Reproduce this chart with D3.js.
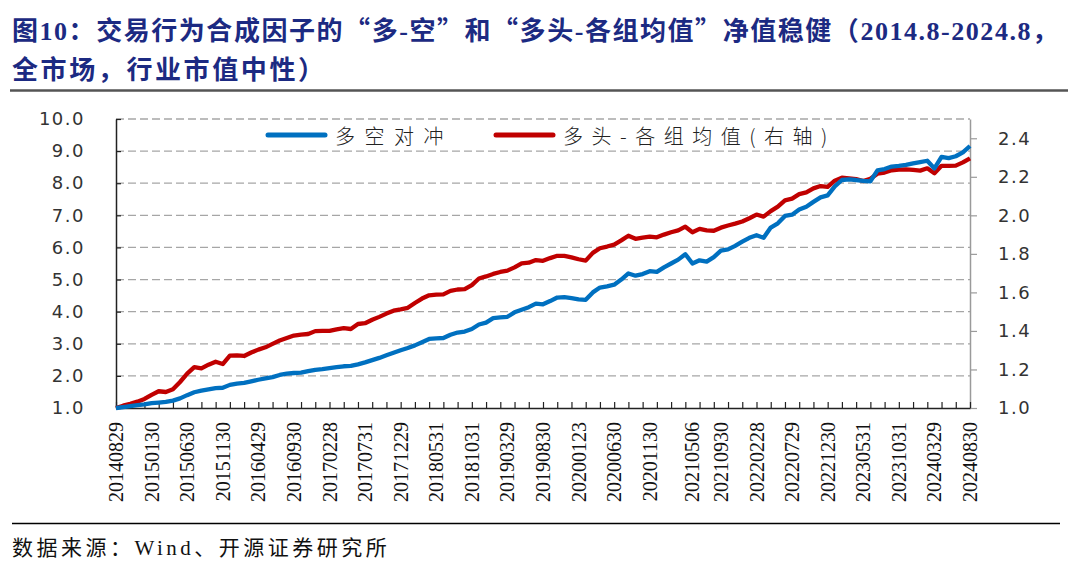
<!DOCTYPE html>
<html><head><meta charset="utf-8">
<script src="https://cdn.jsdelivr.net/npm/d3@7/dist/d3.min.js"></script>
<style>body{margin:0;background:#fff}svg{display:block}</style>
</head><body>
<svg id="c" width="1080" height="574"></svg>
<script>
// ---- DATA ----
const months = [
"201408","201409","201410","201411","201412",
"201501","201502","201503","201504","201505","201506","201507","201508","201509","201510","201511","201512",
"201601","201602","201603","201604","201605","201606","201607","201608","201609","201610","201611","201612",
"201701","201702","201703","201704","201705","201706","201707","201708","201709","201710","201711","201712",
"201801","201802","201803","201804","201805","201806","201807","201808","201809","201810","201811","201812",
"201901","201902","201903","201904","201905","201906","201907","201908","201909","201910","201911","201912",
"202001","202002","202003","202004","202005","202006","202007","202008","202009","202010","202011","202012",
"202101","202102","202103","202104","202105","202106","202107","202108","202109","202110","202111","202112",
"202201","202202","202203","202204","202205","202206","202207","202208","202209","202210","202211","202212",
"202301","202302","202303","202304","202305","202306","202307","202308","202309","202310","202311","202312",
"202401","202402","202403","202404","202405","202406","202407","202408"];

const tickLabels = ["20140829","20150130","20150630","20151130","20160429","20160930","20170228","20170731",
"20171229","20180531","20181031","20190329","20190830","20200123","20200630","20201130","20210506",
"20210930","20220228","20220729","20221230","20230531","20231031","20240329","20240830"];

// 多空对冲 (left axis)
const longShort = [
1.00,1.03,1.06,1.09,1.11,1.15,1.17,1.19,1.23,1.30,1.40,1.49,1.54,1.58,1.62,1.63,1.72,1.76,1.78,1.83,
1.88,1.92,1.96,2.03,2.07,2.09,2.10,2.15,2.19,2.21,2.24,2.27,2.30,2.31,2.36,2.42,2.49,2.56,2.64,2.72,
2.80,2.87,2.95,3.05,3.15,3.17,3.18,3.28,3.35,3.38,3.46,3.60,3.66,3.80,3.82,3.84,3.98,4.06,4.14,4.25,
4.23,4.33,4.44,4.45,4.42,4.38,4.37,4.60,4.75,4.79,4.84,5.00,5.19,5.12,5.17,5.26,5.24,5.38,5.50,5.62,
5.79,5.50,5.60,5.56,5.70,5.90,5.94,6.05,6.18,6.30,6.38,6.30,6.62,6.75,6.98,7.02,7.18,7.27,7.42,7.56,
7.62,7.90,8.10,8.12,8.10,8.07,8.06,8.40,8.44,8.52,8.54,8.57,8.62,8.66,8.70,8.46,8.82,8.78,8.84,8.96,
9.16];

// 多头-各组均值 (right axis)
const longMinusAvg = [
1.000,1.012,1.022,1.033,1.047,1.068,1.087,1.083,1.097,1.135,1.178,1.212,1.206,1.225,1.240,1.228,1.272,1.273,1.270,1.288,
1.303,1.315,1.333,1.350,1.363,1.376,1.381,1.384,1.399,1.400,1.400,1.408,1.414,1.410,1.436,1.440,1.458,1.473,1.490,1.505,
1.512,1.520,1.545,1.568,1.585,1.588,1.590,1.608,1.615,1.617,1.638,1.672,1.683,1.696,1.706,1.713,1.730,1.751,1.754,1.768,
1.764,1.778,1.790,1.790,1.782,1.772,1.765,1.805,1.829,1.838,1.848,1.870,1.894,1.878,1.884,1.889,1.886,1.900,1.912,1.922,
1.941,1.912,1.930,1.922,1.920,1.936,1.947,1.957,1.968,1.985,2.004,1.993,2.022,2.045,2.078,2.087,2.110,2.119,2.140,2.152,
2.148,2.180,2.195,2.192,2.188,2.178,2.190,2.216,2.222,2.234,2.237,2.239,2.236,2.232,2.244,2.218,2.257,2.257,2.258,2.275,
2.296];

const leftTicks = [1,2,3,4,5,6,7,8,9,10];
const rightTicks = [1.0,1.2,1.4,1.6,1.8,2.0,2.2,2.4];
const seriesNames = ["多空对冲","多头-各组均值(右轴)"];

// ---- CHART ----
const svg = d3.select("#c");
const L = 116, R = 970, T = 119, B = 408;
const x = d3.scalePoint().domain(months).range([L, R]);
const yL = d3.scaleLinear().domain([1, 10]).range([B, T]);
const yR = d3.scaleLinear().domain([1, 2.5]).range([B, T]);
const cjk = "'Liberation Serif','Noto Sans CJK SC',serif";
const cjkOnly = "'Noto Sans CJK SC',sans-serif";
const navy = "#1c2a82";

// Title
const title = svg.append("g").attr("fill", navy).attr("font-family", cjk).attr("font-weight", "bold").attr("font-size", 26);
const t1 = title.append("text").attr("x", 12).attr("y", 40)
  .attr("textLength", 1046).attr("lengthAdjust", "spacing");
const parts = [["图10：交易行为合成因子的", cjk], ["“", cjkOnly], ["多-空", cjk], ["”", cjkOnly], ["和", cjk],
  ["“", cjkOnly], ["多头-各组均值", cjk], ["”", cjkOnly], ["净值稳健（2014.8-2024.8，", cjk]];
parts.forEach(p => t1.append("tspan").attr("font-family", p[1]).text(p[0]));
title.append("text").attr("x", 12).attr("y", 79).attr("letter-spacing", 2.6).text("全市场，行业市值中性）");
svg.append("line").attr("x1", 10).attr("x2", 1068).attr("y1", 90.5).attr("y2", 90.5)
  .attr("stroke", "#555").attr("stroke-width", 2.5);

// Gridlines
svg.append("g").selectAll("line").data(leftTicks.slice(1)).join("line")
  .attr("x1", L).attr("x2", R).attr("y1", d => yL(d)).attr("y2", d => yL(d))
  .attr("stroke", "#a6a6a6").attr("stroke-width", 1.3).attr("stroke-dasharray", "8,4");

// Left axis
const gL = svg.append("g").attr("transform", `translate(${L},0)`)
  .call(d3.axisLeft(yL).tickValues(leftTicks).tickFormat(d3.format(".1f")).tickSizeInner(-5).tickSizeOuter(0).tickPadding(31));
gL.select(".domain").attr("stroke", "#222").attr("stroke-width", 1.5);
gL.selectAll(".tick line").attr("stroke", "#222").attr("stroke-width", 1.2);
gL.selectAll("text").attr("font-family", "'DejaVu Sans',sans-serif").attr("font-size", 18)
  .attr("letter-spacing", 1.5).attr("fill", "#333");

// Right axis
const gR = svg.append("g").attr("transform", `translate(${R},0)`)
  .call(d3.axisRight(yR).tickValues(rightTicks).tickFormat(d3.format(".1f")).tickSize(7).tickSizeOuter(0).tickPadding(21));
gR.select(".domain").attr("stroke", "#9a9a9a").attr("stroke-width", 1.5);
gR.selectAll(".tick line").attr("stroke", "#9a9a9a").attr("stroke-width", 1.2);
gR.selectAll("text").attr("font-family", "'DejaVu Sans',sans-serif").attr("font-size", 18)
  .attr("letter-spacing", 1.5).attr("fill", "#333");

// Bottom axis
const gB = svg.append("g").attr("transform", `translate(0,${B})`)
  .call(d3.axisBottom(x).tickValues(months.filter((m, i) => i % 2 === 0)).tickSize(-6).tickSizeOuter(0).tickFormat(""));
gB.select(".domain").attr("stroke", "#222").attr("stroke-width", 1.5);
gB.selectAll(".tick line").attr("stroke", "#222").attr("stroke-width", 1.2);

// X labels
svg.append("g").selectAll("text").data(tickLabels).join("text")
  .attr("transform", d => `translate(${x(d.slice(0, 6))},422) rotate(-90)`)
  .attr("text-anchor", "end").attr("dominant-baseline", "central")
  .attr("font-family", "'Liberation Serif',serif").attr("font-size", 20).attr("fill", "#111")
  .text(d => d);

// Lines
const lineL = d3.line().x((d, i) => x(months[i])).y(d => yL(d));
const lineR = d3.line().x((d, i) => x(months[i])).y(d => yR(d));
svg.append("path").datum(longMinusAvg).attr("d", lineR).attr("fill", "none")
  .attr("stroke", "#c00000").attr("stroke-width", 4.3).attr("stroke-linejoin", "round");
svg.append("path").datum(longShort).attr("d", lineL).attr("fill", "none")
  .attr("stroke", "#0070c0").attr("stroke-width", 4.3).attr("stroke-linejoin", "round");

// Legend
const leg = [{name: seriesNames[0], color: "#0070c0", x: 268, tx: 335, ls: 9.5},
             {name: seriesNames[1], color: "#c00000", x: 496, tx: 563, ls: 8.5}];
const lg = svg.append("g").selectAll("g").data(leg).join("g");
lg.append("line").attr("x1", d => d.x).attr("x2", d => d.x + 57).attr("y1", 135).attr("y2", 135)
  .attr("stroke", d => d.color).attr("stroke-width", 5).attr("stroke-linecap", "round");
lg.append("text").attr("x", d => d.tx).attr("y", 135).attr("dominant-baseline", "central")
  .attr("font-family", cjkOnly).attr("font-size", 20).attr("font-weight", 300)
  .attr("letter-spacing", d => d.ls).attr("fill", "#222").text(d => d.name);

// Source
svg.append("line").attr("x1", 12).attr("x2", 1060).attr("y1", 523.5).attr("y2", 523.5)
  .attr("stroke", "#000").attr("stroke-width", 1.5);
svg.append("text").attr("x", 12).attr("y", 555).attr("font-family", cjk).attr("font-size", 21)
  .attr("letter-spacing", 3.5).attr("fill", "#111").text("数据来源：Wind、开源证券研究所");
</script>
</body></html>
